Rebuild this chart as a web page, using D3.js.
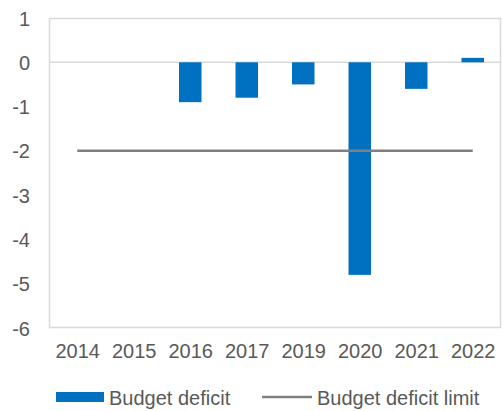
<!DOCTYPE html>
<html>
<head>
<meta charset="utf-8">
<script src="https://cdn.jsdelivr.net/npm/d3@7/dist/d3.min.js"></script>
<style>
  html, body { margin: 0; padding: 0; background: #fff; }
  svg { display: block; font-family: "Liberation Sans", Arial, sans-serif; }
</style>
</head>
<body>
<svg id="chart" width="503" height="411"></svg>
<script>
// Budget balance by year (% of GDP) and the deficit limit
const years = ["2014", "2015", "2016", "2017", "2019", "2020", "2021", "2022"];
const deficit = [null, null, -0.9, -0.8, -0.5, -4.8, -0.6, 0.1];
const deficitLimit = [-2, -2, -2, -2, -2, -2, -2, -2];
const yTicks = [1, 0, -1, -2, -3, -4, -5, -6];
const legendLabels = ["Budget deficit", "Budget deficit limit"];

const svg = d3.select("#chart");
const plot = { left: 49, right: 501, top: 18, bottom: 328 };
const textColor = "#595959";
const barColor = "#0070c0";
const lineColor = "#808080";
const frameColor = "#d9d9d9";
const fontSize = "20px";

const xc = d3.scalePoint().domain(years).range([plot.left, plot.right]).padding(0.5);
const y = d3.scaleLinear().domain([-6, 1]).range([plot.bottom, plot.top]);

// plot frame
svg.append("rect")
  .attr("x", plot.left + 0.5).attr("y", plot.top + 0.5)
  .attr("width", plot.right - plot.left - 1).attr("height", plot.bottom - plot.top - 1)
  .attr("fill", "none").attr("stroke", frameColor).attr("stroke-width", 1.5);

// zero line
svg.append("line")
  .attr("x1", plot.left).attr("x2", plot.right)
  .attr("y1", y(0)).attr("y2", y(0))
  .attr("stroke", frameColor).attr("stroke-width", 1.5);

// y axis labels (plain hyphen for negatives)
const yAxis = d3.axisLeft(y).tickValues(yTicks).tickSize(0).tickPadding(0).tickFormat(d => String(d));
const gy = svg.append("g").attr("transform", "translate(30,0)").call(yAxis);
gy.select(".domain").remove();
gy.selectAll("text").attr("fill", textColor).attr("dy", "0.35em").style("font-size", fontSize)
  .style("font-family", "Liberation Sans, Arial, sans-serif");

// x axis labels
const xAxis = d3.axisBottom(xc).tickSize(0).tickPadding(0);
const gx = svg.append("g").attr("transform", "translate(0,358)").call(xAxis);
gx.select(".domain").remove();
gx.selectAll("text").attr("fill", textColor).attr("dy", "0").style("font-size", fontSize)
  .style("font-family", "Liberation Sans, Arial, sans-serif");

// bars
const bw = 22.5;
svg.append("g").selectAll("rect")
  .data(years.map((yr, i) => ({ yr, v: deficit[i] })).filter(d => d.v !== null))
  .join("rect")
  .attr("x", d => xc(d.yr) - bw / 2)
  .attr("width", bw)
  .attr("y", d => y(Math.max(0, d.v)))
  .attr("height", d => Math.abs(y(d.v) - y(0)))
  .attr("fill", barColor);

// deficit limit line
const line = d3.line().x((d, i) => xc(years[i])).y(d => y(d));
svg.append("path")
  .datum(deficitLimit)
  .attr("d", line)
  .attr("fill", "none")
  .attr("stroke", lineColor)
  .attr("stroke-width", 2.5);

// legend
const lg = svg.append("g").style("font-size", fontSize).attr("fill", textColor);
lg.append("rect").attr("x", 56).attr("y", 392).attr("width", 48).attr("height", 10).attr("fill", barColor);
lg.append("text").attr("x", 109).attr("y", 405).text(legendLabels[0]);
lg.append("line").attr("x1", 262).attr("x2", 312).attr("y1", 397).attr("y2", 397)
  .attr("stroke", lineColor).attr("stroke-width", 2.5);
lg.append("text").attr("x", 317).attr("y", 405).text(legendLabels[1]);
</script>
</body>
</html>
